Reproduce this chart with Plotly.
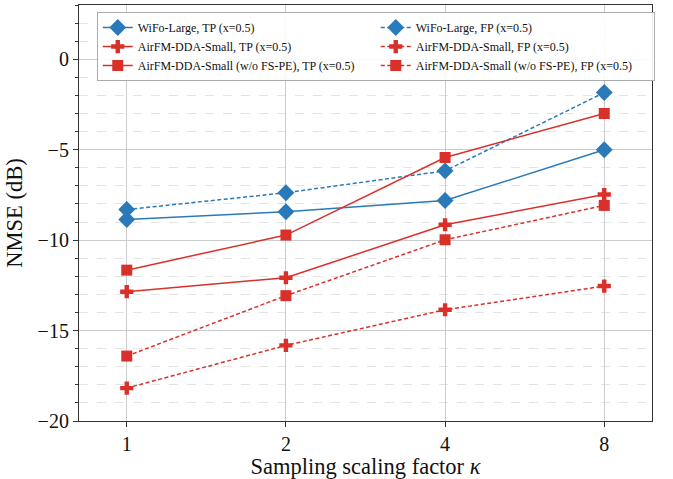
import plotly.graph_objects as go

# Sampling scaling factors (plotted at equal spacing on a log2 scale)
kappa = [1, 2, 4, 8]
kappa_pos = [0, 1, 2, 3]
kappa_labels = ["1", "2", "4", "8"]

# NMSE (dB) per method
wifo_tp = [-8.86, -8.43, -7.81, -5.0]
wifo_fp = [-8.31, -7.38, -6.17, -1.84]
airfm_tp = [-12.85, -12.08, -9.15, -7.48]
airfm_fp = [-18.18, -15.82, -13.85, -12.54]
airfm_nofspe_tp = [-11.66, -9.72, -5.43, -3.0]
airfm_nofspe_fp = [-16.41, -13.07, -9.98, -8.08]

BLUE = "#2a7ab9"
RED = "#d9302a"
FONT = "Times New Roman, Liberation Serif, serif"

series = [
    ("WiFo-Large, TP (x=0.5)", wifo_tp, BLUE, "solid", "diamond", 13),
    ("WiFo-Large, FP (x=0.5)", wifo_fp, BLUE, "dash", "diamond", 13),
    ("AirFM-DDA-Small, TP (x=0.5)", airfm_tp, RED, "solid", "cross", 11),
    ("AirFM-DDA-Small, FP (x=0.5)", airfm_fp, RED, "dash", "cross", 11),
    ("AirFM-DDA-Small (w/o FS-PE), TP (x=0.5)", airfm_nofspe_tp, RED, "solid", "square", 11),
    ("AirFM-DDA-Small (w/o FS-PE), FP (x=0.5)", airfm_nofspe_fp, RED, "dash", "square", 11),
]

fig = go.Figure()
for name, vals, color, dash, symbol, size in series:
    fig.add_trace(go.Scatter(
        x=kappa_pos, y=vals, name=name, mode="lines+markers",
        line=dict(color=color, width=1.5, dash=dash if dash == "solid" else "4px,2.5px"),
        marker=dict(symbol=symbol, size=size, color=color, line=dict(width=0)),
    ))

axis_common = dict(
    showline=True, linecolor="#333333", linewidth=1.2, mirror=True,
    ticks="outside", ticklen=5, tickwidth=1, tickcolor="#333333",
    tickfont=dict(family=FONT, size=20, color="#111111"),
    gridcolor="#cccccc", gridwidth=1, zeroline=False,
)

fig.update_xaxes(
    **axis_common,
    range=[-0.3, 3.3], tickmode="array", tickvals=kappa_pos, ticktext=kappa_labels,
    title=dict(text="Sampling scaling factor <i>κ</i>", font=dict(family=FONT, size=22.5, color="#111111"), standoff=2),
)
fig.update_yaxes(
    **axis_common,
    range=[-20, 3], tickmode="array", tickvals=[0, -5, -10, -15, -20],
    title=dict(text="NMSE (dB)", font=dict(family=FONT, size=22.5, color="#111111"), standoff=8),
    minor=dict(dtick=1, ticks="outside", ticklen=3, tickcolor="#333333",
               showgrid=True, gridcolor="#e3e3e3", griddash="dash", gridwidth=1),
)

fig.update_layout(
    width=673, height=479,
    margin=dict(l=79, r=21, t=5, b=58),
    paper_bgcolor="white", plot_bgcolor="white",
    font=dict(family=FONT, color="#111111"),
    showlegend=True,
    legend=dict(
        orientation="h", x=0.031, y=0.983, xanchor="left", yanchor="top",
        entrywidth=233, entrywidthmode="pixels",
        font=dict(family=FONT, size=12, color="#111111"),
        bgcolor="rgba(255,255,255,0.9)", bordercolor="#aaaaaa", borderwidth=1,
        tracegroupgap=0, itemwidth=30,
    ),
)

fig.write_html("out.html")
